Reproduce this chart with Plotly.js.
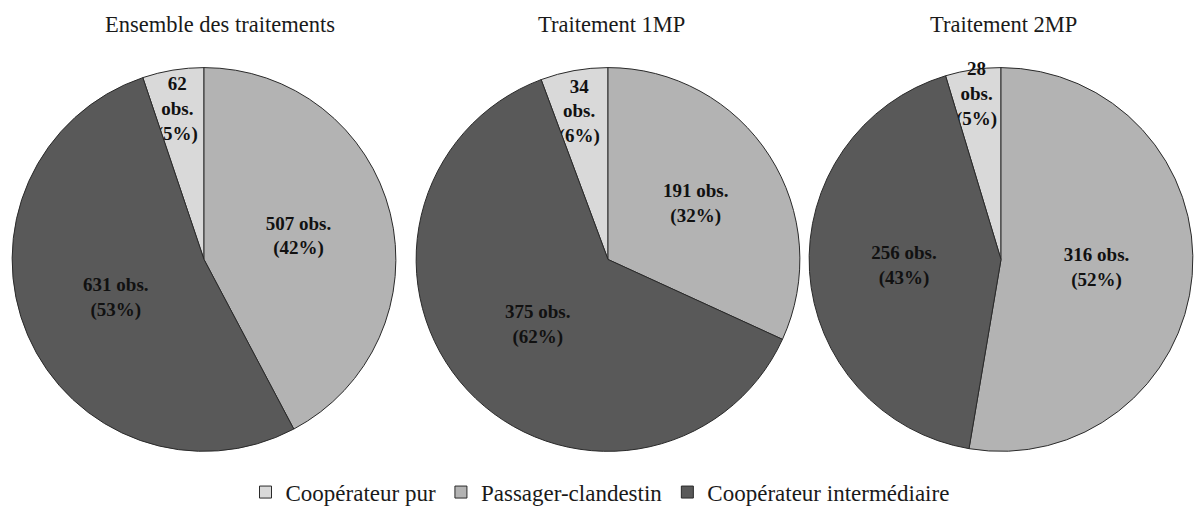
<!DOCTYPE html>
<html>
<head>
<meta charset="utf-8">
<script src="https://cdn.plot.ly/plotly-3.0.1.min.js"></script>
<style>
  html, body { margin: 0; padding: 0; background: #ffffff; }
  #chart { width: 1200px; height: 514px; }
</style>
</head>
<body>
<div id="chart"></div>
<script>
// Categories (legend order)
const categories = ['Coopérateur pur', 'Passager-clandestin', 'Coopérateur intermédiaire'];

// Panel titles
const panelTitles = ['Ensemble des traitements', 'Traitement 1MP', 'Traitement 2MP'];

// Observations per category for each panel
const obsEnsemble = [62, 507, 631];
const obs1MP = [34, 191, 375];
const obs2MP = [28, 316, 256];

// Percentages as printed on the chart
const pctEnsemble = [5, 42, 53];
const pct1MP = [6, 32, 62];
const pct2MP = [5, 52, 43];

const colors = ['#d9d9d9', '#b3b3b3', '#595959'];

const panels = [
  { obs: obsEnsemble, pct: pctEnsemble, lead: true },
  { obs: obs1MP, pct: pct1MP, lead: true },
  { obs: obs2MP, pct: pct2MP, lead: false }
];

const W = 1200, H = 514;
const R = 193;
const CY = 261;
const CX = [204, 608, 1001];
const SERIF = 'Liberation Serif, Times New Roman, serif';

function makeText(obs, pct, lead) {
  const total = obs.reduce((a, b) => a + b, 0);
  return obs.map((v, i) => {
    // narrow slices get the label stacked on three lines
    if (v / total < 0.1) return (lead ? '\u00a0<br>' : '') + v + '<br>obs.<br>(' + pct[i] + '%)';
    return v + ' obs.<br>(' + pct[i] + '%)';
  });
}

const traces = panels.map((p, k) => {
  const total = p.obs.reduce((a, b) => a + b, 0);
  return {
    type: 'pie',
    labels: categories,
    values: p.obs,
    text: makeText(p.obs, p.pct, p.lead),
    textinfo: 'text',
    hoverinfo: 'label+value',
    textposition: 'inside',
    insidetextorientation: 'horizontal',
    sort: false,
    direction: 'clockwise',
    rotation: -360 * p.obs[0] / total,
    marker: { colors: colors, line: { color: '#2a2a2a', width: 1 } },
    textfont: { family: SERIF, size: 19, color: '#111111', weight: 'bold' },
    insidetextfont: { family: SERIF, size: 19, color: '#111111', weight: 'bold' },
    domain: {
      x: [(CX[k] - R) / W, (CX[k] + R) / W],
      y: [(H - CY - R) / H, (H - CY + R) / H]
    },
    showlegend: k === 0
  };
});

const annotations = panelTitles.map((t, k) => ({
  text: t,
  x: CX[k] / W + (k === 0 ? 16 / W : 3 / W),
  y: (H - 25) / H,
  xref: 'paper', yref: 'paper',
  xanchor: 'center', yanchor: 'middle',
  showarrow: false,
  font: { family: SERIF, size: 22.5, color: '#1a1a1a' }
}));

const layout = {
  width: W,
  height: H,
  margin: { l: 0, r: 0, t: 0, b: 0 },
  paper_bgcolor: '#ffffff',
  plot_bgcolor: '#ffffff',
  showlegend: true,
  uniformtext: { mode: 'show', minsize: 19 },
  legend: {
    orientation: 'h',
    x: 0.5, xanchor: 'center',
    y: 19 / H, yanchor: 'middle',
    font: { family: SERIF, size: 23, color: '#1a1a1a' },
    traceorder: 'normal',
    itemwidth: 30
  },
  annotations: annotations
};

Plotly.newPlot('chart', traces, layout, { displayModeBar: false, staticPlot: true });
</script>
</body>
</html>
